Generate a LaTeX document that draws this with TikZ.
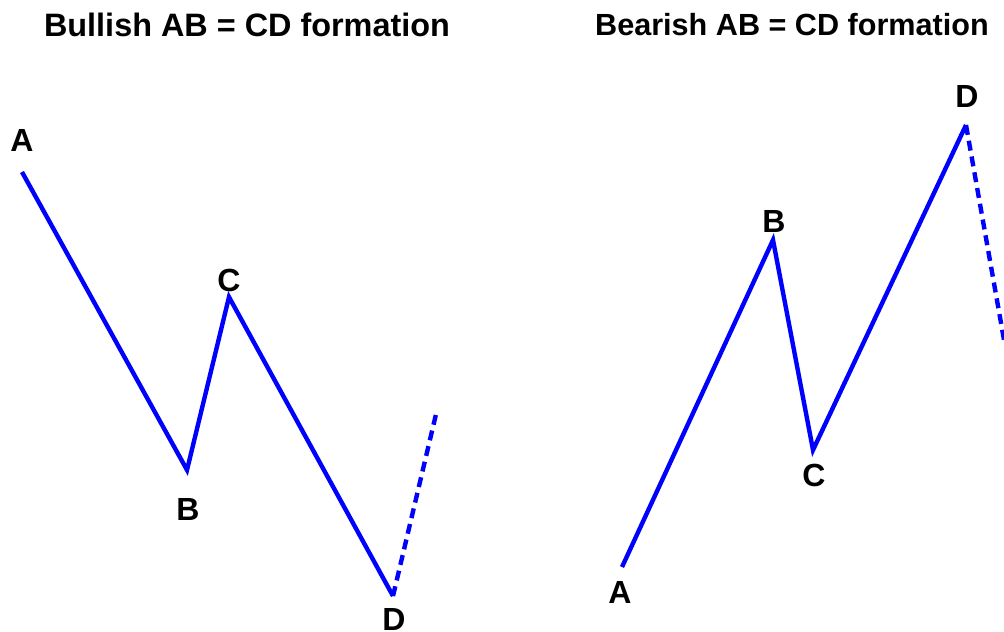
\documentclass[tikz,border=0pt]{standalone}
\usepackage{fontspec}
\setmainfont{Liberation Sans}
\begin{document}
\begin{tikzpicture}[x=0.5pt, y=-0.5pt,
    wave/.style={blue, line width=2.2pt},
    ext/.style={wave, dash pattern=on 5pt off 3pt},
    pname/.style={font=\bfseries\fontsize{16}{19}\selectfont, inner sep=0pt},
    heading/.style={font=\bfseries\fontsize{#1}{19}\selectfont, inner sep=0pt},
    heading/.default=16.2]
    \useasboundingbox (0,0) rectangle (1004,631);

    \node[heading] (bull) at (247,25) {Bullish AB = CD formation};
    \node[heading=15.3] (bear) at (792,25) {Bearish AB = CD formation};

    % bullish leg points
    \coordinate (lA) at (22,172);
    \coordinate (lB) at (187,470);
    \coordinate (lC) at (229,297);
    \coordinate (lD) at (393,596);
    \coordinate (lE) at (437,410);

    \draw[wave] (lA) -- (lB) -- (lC) -- (lD);
    \draw[ext] (lD) -- (lE);

    \node[pname] (lAt) at (22,140) {A};
    \node[pname] (lBt) at (188,509) {B};
    \node[pname] (lCt) at (229,280) {C};
    \node[pname] (lDt) at (394,619) {D};

    % bearish leg points
    \coordinate (rA) at (622,567);
    \coordinate (rB) at (773,240);
    \coordinate (rC) at (813,450);
    \coordinate (rD) at (966,125);
    \coordinate (rE) at (1004,340);

    \draw[wave] (rA) -- (rB) -- (rC) -- (rD);
    \draw[ext] (rD) -- (rE);

    \node[pname] (rAt) at (620,592) {A};
    \node[pname] (rBt) at (774,221) {B};
    \node[pname] (rCt) at (814,475) {C};
    \node[pname] (rDt) at (967,96) {D};
\end{tikzpicture}
\end{document}
